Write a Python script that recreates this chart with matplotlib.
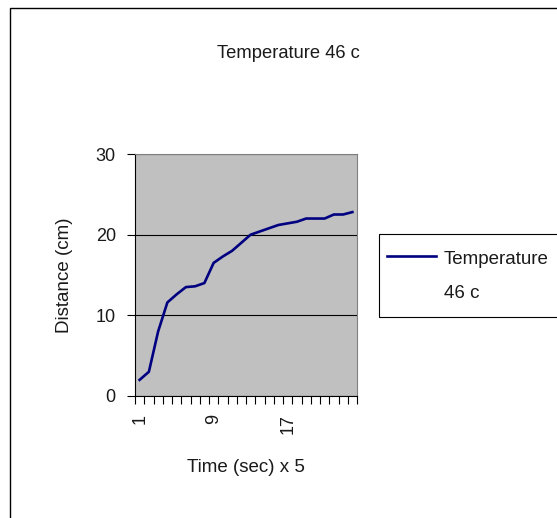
import numpy as np
import matplotlib.pyplot as plt
from matplotlib.patches import Rectangle
from matplotlib.lines import Line2D

plt.rcParams['font.family'] = ['Liberation Sans', 'DejaVu Sans']
plt.rcParams['text.color'] = '#1a1a1a'
plt.rcParams['axes.labelcolor'] = '#1a1a1a'
plt.rcParams['xtick.labelcolor'] = '#1a1a1a'
plt.rcParams['ytick.labelcolor'] = '#1a1a1a'

# data (time steps x 5 sec, distance in cm)
steps = np.arange(1, 25)
distance = [2.0, 3.0, 8.0, 11.6, 12.6, 13.5, 13.6, 14.0, 16.5, 17.3, 18.0, 19.0,
            20.0, 20.4, 20.8, 21.2, 21.4, 21.6, 22.0, 22.0, 22.0, 22.5, 22.5, 22.8]
step_labels = [1, 9, 17]
y_ticks = [0, 10, 20, 30]

fig = plt.figure(figsize=(5.57, 5.18), dpi=100)
fig.patch.set_facecolor('white')

# outer chart border
fig.patches.append(Rectangle((10 / 557, -0.1), 1.0, 1 - 8 / 518 + 0.1,
                             transform=fig.transFigure, fill=False,
                             edgecolor='black', linewidth=1.0))

ax = fig.add_axes([135 / 557, 1 - 396 / 518, 222 / 557, 242 / 518])
ax.set_facecolor('#c0c0c0')
ax.plot(steps, distance, color='#000080', linewidth=1.9)

ax.set_xlim(0.5, 24.5)
ax.set_ylim(0, 30)
ax.set_yticks(y_ticks)
ax.yaxis.grid(True, color='black', linewidth=0.8)
ax.set_axisbelow(True)

ax.set_xticks(np.arange(0.5, 25, 1))
ax.set_xticklabels([])
ax.set_xticks(step_labels, minor=True)
ax.set_xticklabels([str(v) for v in step_labels], minor=True, rotation=90,
                   fontsize=13, va='top')
ax.tick_params(axis='x', which='major', length=5.8, width=0.8, direction='out')
ax.tick_params(axis='x', which='minor', length=0, pad=13)
ax.tick_params(axis='y', length=5.8, width=0.8, labelsize=13, pad=8)

for side in ['top', 'right']:
    ax.spines[side].set_color('#808080')
for side in ['left', 'bottom']:
    ax.spines[side].set_color('black')

ax.set_ylabel('Distance (cm)', fontsize=13.5, labelpad=16)
ax.set_xlabel('Time (sec) x 5', fontsize=13.5, labelpad=18)

fig.text(288 / 557, 1 - 53 / 518, 'Temperature 46 c', ha='center', va='center',
         fontsize=13.2)

# legend box
fig.patches.append(Rectangle((379 / 557, 1 - 317 / 518), 0.5, 83 / 518,
                             transform=fig.transFigure, facecolor='white',
                             edgecolor='black', linewidth=0.8))
fig.lines.append(Line2D([387 / 557, 436 / 557], [1 - 256 / 518, 1 - 256 / 518],
                        transform=fig.transFigure, color='#000080', linewidth=1.9))
fig.text(444 / 557, 1 - 259 / 518, 'Temperature', va='center', fontsize=13.5)
fig.text(444 / 557, 1 - 293 / 518, '46 c', va='center', fontsize=13.5)

fig.savefig('out.png', dpi=100)
